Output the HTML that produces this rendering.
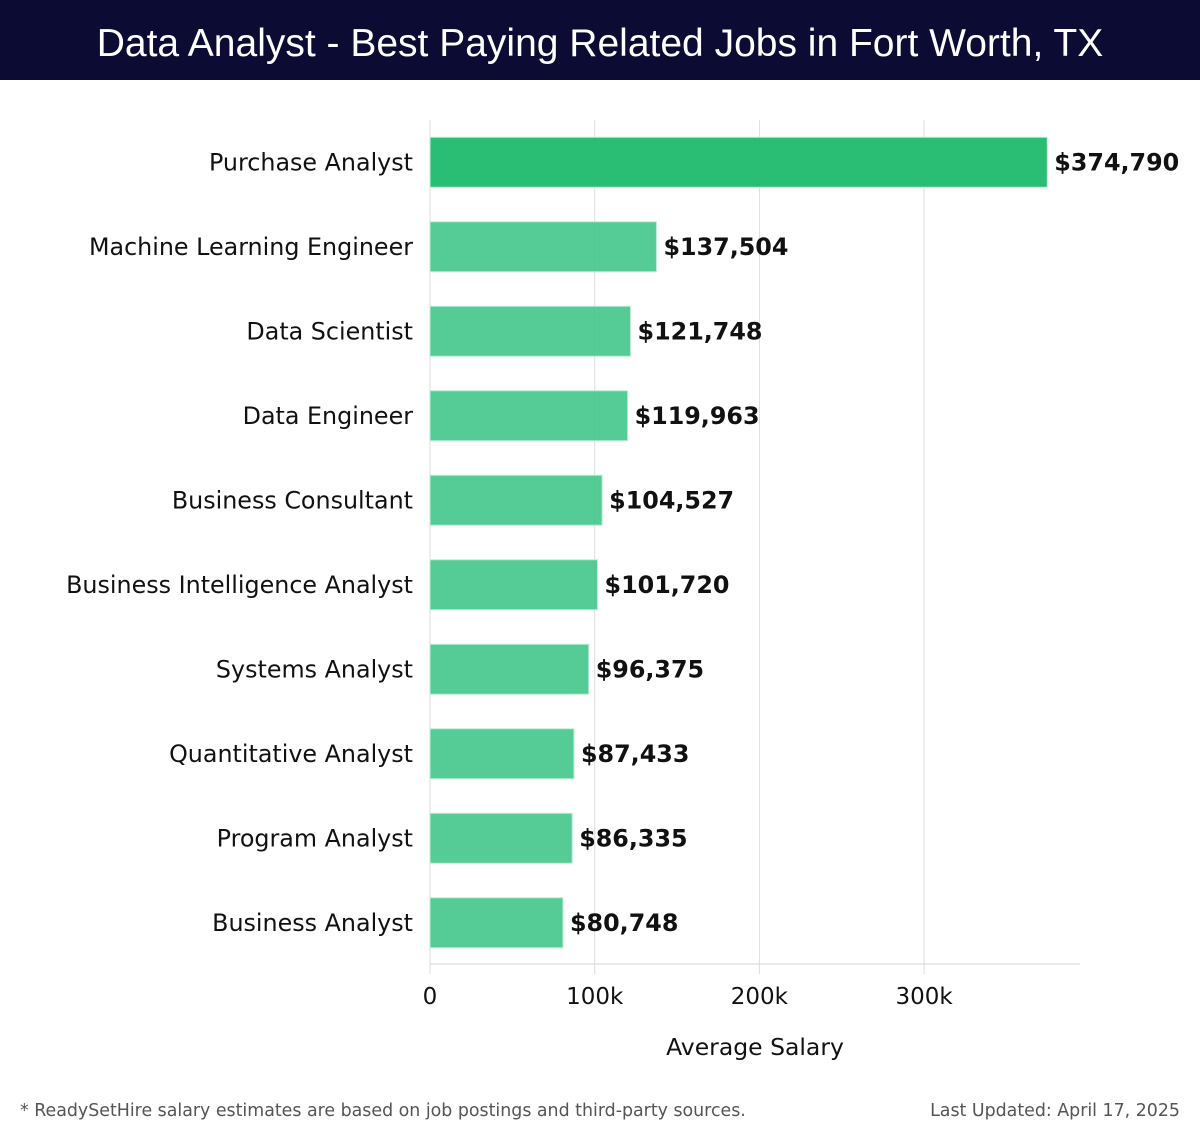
<!DOCTYPE html>
<html><head><meta charset="utf-8">
<style>
html,body{margin:0;padding:0;background:#fff;}
body{width:1200px;height:1140px;position:relative;overflow:hidden;font-family:"DejaVu Sans","Liberation Sans",sans-serif;}
#title{position:absolute;left:0;top:0;width:1200px;height:80px;background:#0b0b33;color:#fff;font-family:"Liberation Sans",sans-serif;font-size:39px;line-height:88px;text-align:center;}
#foot-l{position:absolute;left:20px;top:1101px;font-size:17.4px;color:#555;}
#foot-r{position:absolute;right:20px;top:1101px;font-size:17.4px;color:#555;}
svg{position:absolute;left:0;top:0;}
</style></head><body>
<div id="title">Data Analyst - Best Paying Related Jobs in Fort Worth, TX</div>
<svg id="chart" width="1200" height="1140"></svg>
<div id="foot-l">* ReadySetHire salary estimates are based on job postings and third-party sources.</div>
<div id="foot-r">Last Updated: April 17, 2025</div>
<script>
const categories=["Purchase Analyst","Machine Learning Engineer","Data Scientist","Data Engineer","Business Consultant","Business Intelligence Analyst","Systems Analyst","Quantitative Analyst","Program Analyst","Business Analyst"];
const salaries=[374790,137504,121748,119963,104527,101720,96375,87433,86335,80748];
const tickValues=[0,100000,200000,300000];
const tickLabels=["0","100k","200k","300k"];

const NS="http://www.w3.org/2000/svg";
const svg=document.getElementById('chart');
const x0=430,pxPer=164.7/100000,top0=120,band=84.5,barH=50,axisY=964,axisRight=1080;
const x=v=>x0+v*pxPer;
const yc=i=>top0+band*i+band/2;
function mk(t,a){const e=document.createElementNS(NS,t);for(const k in a)e.setAttribute(k,a[k]);svg.appendChild(e);return e;}

tickValues.forEach((v,i)=>{
  const g=mk('line',{x1:x(v),x2:x(v),y1:top0,y2:axisY+10,stroke:'#dddddd','stroke-width':1});
  
  
  const t=mk('text',{x:x(v),y:1004,'text-anchor':'middle','font-size':23,fill:'#111'});
  t.textContent=tickLabels[i];
  
  
});
const ax=mk('line',{x1:x0,x2:axisRight,y1:axisY,y2:axisY,stroke:'#d6d6d6','stroke-width':1});



categories.forEach((c,i)=>{
  const r=mk('rect',{x:x0,y:yc(i)-barH/2,width:x(salaries[i])-x0,height:barH,fill:i===0?'#1fba6e':'#3ec586','fill-opacity':i===0?0.95:0.88,stroke:'#bfeed6','stroke-width':1});
  
  
  const l=mk('text',{x:413,y:yc(i)+8,'text-anchor':'end','font-size':23.8,fill:'#111'});
  l.textContent=c;
  
  
  const v=mk('text',{x:x(salaries[i])+7,y:yc(i)+8,'font-size':23.8,'font-weight':'bold',fill:'#111'});
  v.textContent='$'+salaries[i].toLocaleString('en-US');
  
  
});
const xt=mk('text',{x:755,y:1055,'text-anchor':'middle','font-size':23.5,fill:'#111'});
xt.textContent='Average Salary';


</script>
</body></html>
